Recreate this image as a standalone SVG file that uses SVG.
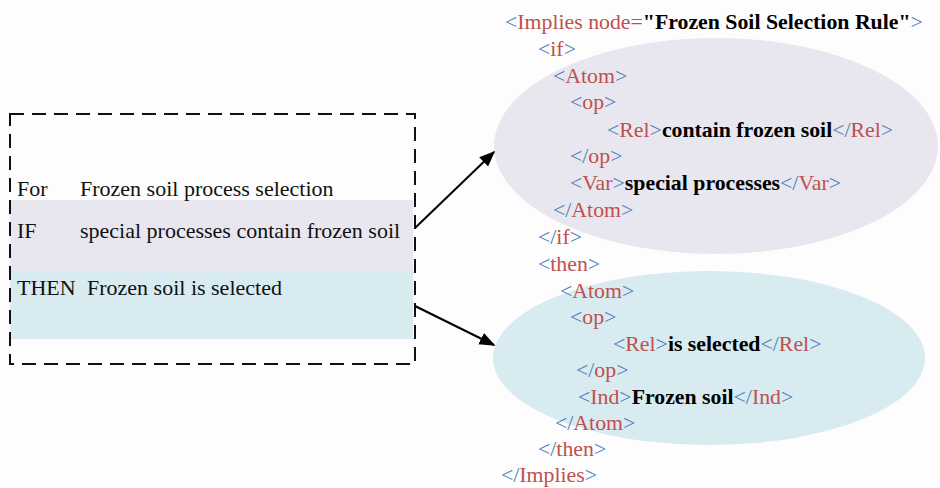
<svg xmlns="http://www.w3.org/2000/svg" width="940" height="488" viewBox="0 0 940 488">
<defs>
<style>
text{font-family:"Liberation Serif","Times New Roman",serif;}
.x{font-size:21.8px;fill:#c0504d;}
.b{fill:#4f81bd;}
.k{fill:#000;font-weight:bold;}
.t{font-size:22px;fill:#111;}
.c{stroke:#000;stroke-width:2;fill:none;}
</style>
<marker id="ah2" viewBox="0 0 10 10" refX="9" refY="5" markerWidth="16" markerHeight="16" orient="auto" markerUnits="userSpaceOnUse">
<path d="M0,1 L10,5 L0,9 z" fill="#000"/>
</marker>
</defs>
<rect width="940" height="488" fill="#fdfdfd"/>
<g id="ifEllipse"><ellipse cx="716" cy="146" rx="222" ry="108" fill="#e8e7ef"/></g>
<g id="thenEllipse"><ellipse cx="709" cy="358" rx="216" ry="87" fill="#d7ebf1"/></g>
<g id="ruleBox">
<rect x="10" y="200" width="403" height="72" fill="#e8e7ef"/>
<rect x="10" y="272" width="403" height="67" fill="#d7ebf1"/>
<rect x="10" y="114" width="405" height="250" fill="none" stroke="#111" stroke-width="2" stroke-dasharray="14,8"/>
<text class="t" x="17" y="196">For</text><text class="t" x="80" y="196">Frozen soil process selection</text>
<text class="t" x="17" y="238">IF</text><text class="t" x="80" y="238">special processes contain frozen soil</text>
<text class="t" x="17" y="295">THEN</text><text class="t" x="87" y="295">Frozen soil is selected</text>
</g>
<g id="connectors">
<line class="c" x1="415" y1="228" x2="494" y2="152" marker-end="url(#ah2)"/>
<line class="c" x1="415" y1="306" x2="494" y2="345" marker-end="url(#ah2)"/>
</g>
<g id="xml">
<text class="x" x="505" y="29"><tspan class="b">&lt;</tspan>Implies node=<tspan class="k">"Frozen Soil Selection Rule"</tspan><tspan class="b">&gt;</tspan></text>
<text class="x" x="538" y="56"><tspan class="b">&lt;</tspan>if<tspan class="b">&gt;</tspan></text>
<text class="x" x="553" y="83"><tspan class="b">&lt;</tspan>Atom<tspan class="b">&gt;</tspan></text>
<text class="x" x="570" y="109"><tspan class="b">&lt;</tspan>op<tspan class="b">&gt;</tspan></text>
<text class="x" x="607" y="137"><tspan class="b">&lt;</tspan>Rel<tspan class="b">&gt;</tspan><tspan class="k">contain frozen soil</tspan><tspan class="b">&lt;/</tspan>Rel<tspan class="b">&gt;</tspan></text>
<text class="x" x="570" y="163"><tspan class="b">&lt;/</tspan>op<tspan class="b">&gt;</tspan></text>
<text class="x" x="570" y="190"><tspan class="b">&lt;</tspan>Var<tspan class="b">&gt;</tspan><tspan class="k">special processes</tspan><tspan class="b">&lt;/</tspan>Var<tspan class="b">&gt;</tspan></text>
<text class="x" x="553" y="217"><tspan class="b">&lt;/</tspan>Atom<tspan class="b">&gt;</tspan></text>
<text class="x" x="538" y="244"><tspan class="b">&lt;/</tspan>if<tspan class="b">&gt;</tspan></text>
<text class="x" x="538" y="271"><tspan class="b">&lt;</tspan>then<tspan class="b">&gt;</tspan></text>
<text class="x" x="560" y="298"><tspan class="b">&lt;</tspan>Atom<tspan class="b">&gt;</tspan></text>
<text class="x" x="570" y="324"><tspan class="b">&lt;</tspan>op<tspan class="b">&gt;</tspan></text>
<text class="x" x="613" y="351"><tspan class="b">&lt;</tspan>Rel<tspan class="b">&gt;</tspan><tspan class="k">is selected</tspan><tspan class="b">&lt;/</tspan>Rel<tspan class="b">&gt;</tspan></text>
<text class="x" x="576" y="377"><tspan class="b">&lt;/</tspan>op<tspan class="b">&gt;</tspan></text>
<text class="x" x="578" y="404"><tspan class="b">&lt;</tspan>Ind<tspan class="b">&gt;</tspan><tspan class="k">Frozen soil</tspan><tspan class="b">&lt;/</tspan>Ind<tspan class="b">&gt;</tspan></text>
<text class="x" x="555" y="430"><tspan class="b">&lt;/</tspan>Atom<tspan class="b">&gt;</tspan></text>
<text class="x" x="538" y="456"><tspan class="b">&lt;/</tspan>then<tspan class="b">&gt;</tspan></text>
<text class="x" x="501" y="482"><tspan class="b">&lt;/</tspan>Implies<tspan class="b">&gt;</tspan></text>
</g>
</svg>
